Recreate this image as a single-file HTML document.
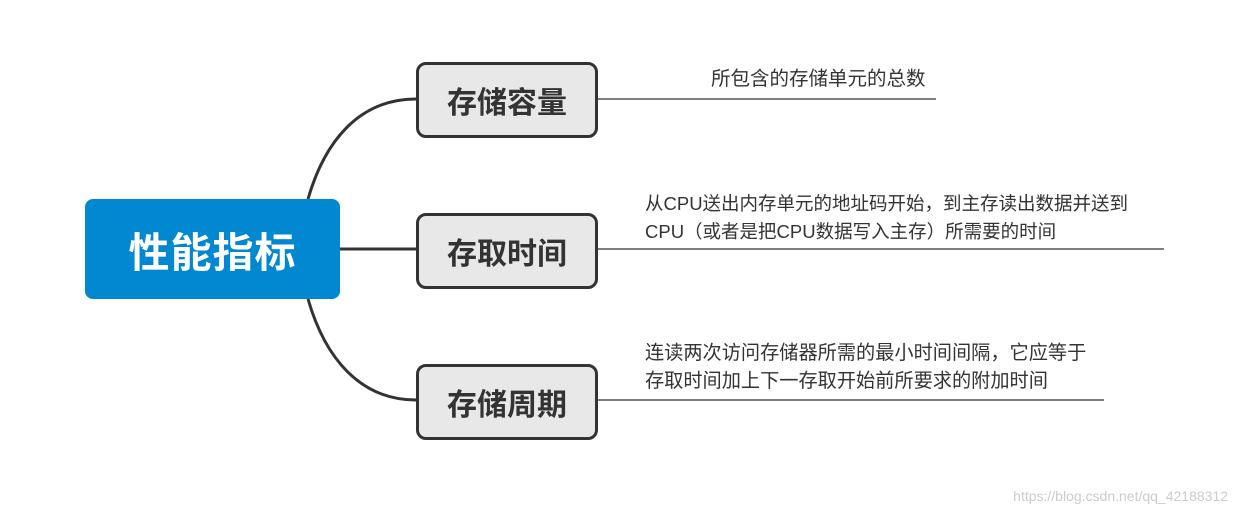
<!DOCTYPE html>
<html><head><meta charset="utf-8"><style>
body{margin:0;width:1236px;height:514px;background:#fff;overflow:hidden;position:relative;font-family:"Liberation Sans","Noto Sans CJK SC",sans-serif;}
.c{position:absolute;left:85px;top:199px;width:255px;height:100px;background:#0288d1;border-radius:8px;color:#fff;font-size:41px;font-weight:bold;display:flex;align-items:center;justify-content:center;letter-spacing:1px}
.b{position:absolute;left:416px;width:176px;height:70px;background:#e8e8e8;border:3px solid #333;border-radius:10px;color:#333;font-size:30px;font-weight:bold;display:flex;align-items:center;justify-content:center}
.t{position:absolute;font-size:18.5px;color:#333;line-height:28px;white-space:nowrap}
.w{position:absolute;right:8px;bottom:10px;font-size:14px;color:#ccc}
</style></head><body>
<svg width="1236" height="514" style="position:absolute;left:0;top:0">
<path d="M308 199 C325 140 360 99 416 99" fill="none" stroke="#333" stroke-width="3"/>
<path d="M308 299 C325 358 360 400 416 400" fill="none" stroke="#333" stroke-width="3"/>
<line x1="340" y1="249" x2="416" y2="249" stroke="#333" stroke-width="3"/>
<line x1="596" y1="99" x2="936" y2="99" stroke="#333" stroke-width="1.3"/>
<line x1="596" y1="249" x2="1164" y2="249" stroke="#333" stroke-width="1.3"/>
<line x1="596" y1="400" x2="1104" y2="400" stroke="#333" stroke-width="1.3"/>
</svg>
<div class="c">性能指标</div>
<div class="b" style="top:62px">存储容量</div>
<div class="b" style="top:213px">存取时间</div>
<div class="b" style="top:364px">存储周期</div>
<div class="t" style="left:711px;top:65px;font-size:19.5px">所包含的存储单元的总数</div>
<div class="t" style="left:645px;top:190px">从CPU送出内存单元的地址码开始，到主存读出数据并送到<br>CPU（或者是把CPU数据写入主存）所需要的时间</div>
<div class="t" style="left:645px;top:340px;font-size:19.2px">连读两次访问存储器所需的最小时间间隔，它应等于<br>存取时间加上下一存取开始前所要求的附加时间</div>
<div class="w">https://blog.csdn.net/qq_42188312</div>
</body></html>
